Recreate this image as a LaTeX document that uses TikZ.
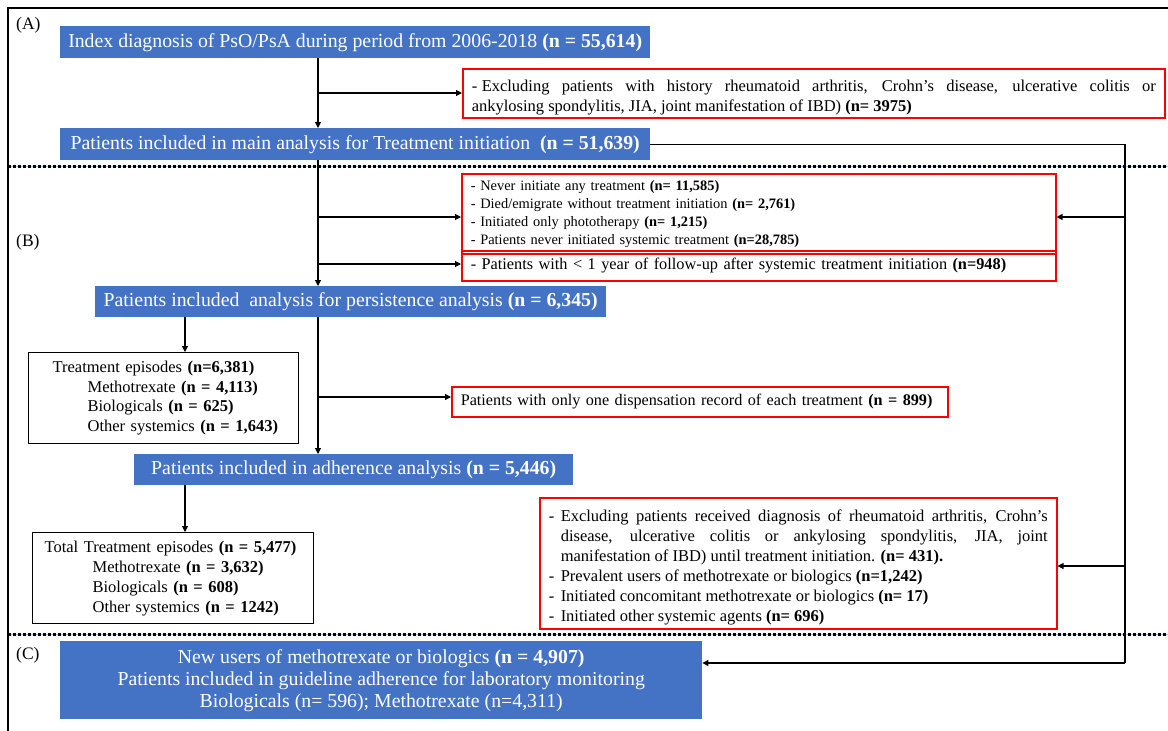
\documentclass[tikz,border=0pt]{standalone}
\usepackage{fontspec}
\setmainfont{Liberation Serif}
\usetikzlibrary{arrows.meta}
\definecolor{bluebox}{HTML}{4472C4}
\definecolor{redline}{HTML}{FF0000}
\definecolor{dotblue}{HTML}{9DC3E6}
\newcommand\dashitem[2]{\par\noindent\hangindent=#1\hangafter=1\makebox[#1][l]{-}#2}
\tikzset{
  bluenode/.style={fill=bluebox, text=white, font=\fontsize{19.8}{22}\selectfont, align=center, inner sep=0pt, anchor=north west},
  redbox/.style={draw=redline, line width=1.5pt, anchor=north west, inner xsep=9pt, inner ysep=0pt},
  blackbox/.style={draw=black, line width=1.2pt, anchor=north west, inner sep=0pt, align=left, font=\fontsize{16.5}{19.5}\selectfont},
  conn/.style={line width=1.1pt},
  arr/.style={line width=1.1pt, -{Triangle[length=6pt,width=6pt]}},
  seclabel/.style={font=\fontsize{17.5}{19}\selectfont, anchor=west, inner sep=0pt},
  sep/.style={line width=3pt, dash pattern=on 3pt off 2pt},
}
\begin{document}
\begin{tikzpicture}[x=1pt,y=-1pt]
\useasboundingbox (0,0) rectangle (1168,731);
\fill[white] (0,0) rectangle (1168,731);
% frame
\draw[line width=1.5pt] (8,731) -- (8,8) -- (1168,8);
% separators
\draw[dotblue, line width=0.8pt] (8,166) -- (1168,166);
\draw[sep] (8,166) -- (1168,166);
\draw[dotblue, line width=0.8pt] (8,634) -- (1168,634);
\draw[sep] (8,634) -- (1168,634);
% section labels
\node[seclabel] (labA) at (16,25) {(A)};
\node[seclabel] (labB) at (16,242) {(B)};
\node[seclabel] (labC) at (16,655) {(C)};

% blue boxes
\node[bluenode, minimum width=590pt, minimum height=32pt] (A1) at (60,26)
  {Index diagnosis of PsO/PsA during period from 2006-2018 \textbf{(n = 55,614)}};
\node[bluenode, minimum width=590pt, minimum height=32pt] (A2) at (60,128)
  {Patients included in main analysis for Treatment initiation\ \ \textbf{(n = 51,639)}};
\node[bluenode, minimum width=511pt, minimum height=31pt] (B1) at (95,286)
  {Patients included\ \ analysis for persistence analysis \textbf{(n = 6,345)}};
\node[bluenode, minimum width=439pt, minimum height=31pt] (B2) at (134,454)
  {Patients included in adherence analysis \textbf{(n = 5,446)}};
\node[bluenode, minimum width=642pt, minimum height=78pt] (C) at (60,641)
  {New users of methotrexate or biologics \textbf{(n = 4,907)}\\
   Patients included in guideline adherence for laboratory monitoring\\
   Biologicals (n= 596); Methotrexate (n=4,311)};

% red boxes
\node[redbox, text width=684pt, minimum height=49pt, align=justify, font=\fontsize{16.5}{20}\selectfont] (r1) at (462,68)
  {\dashitem{10pt}{Excluding patients with history rheumatoid arthritis, Crohn’s disease, ulcerative colitis or\linebreak ankylosing spondylitis, JIA, joint manifestation of IBD) \textbf{(n= 3975)}}};
\node[redbox, text width=576pt, minimum height=80pt, align=left, font=\fontsize{14.4}{18}\selectfont] (r2) at (461,173)
  {- Never initiate any treatment \textbf{(n= 11,585)}\\
   - Died/emigrate without treatment initiation \textbf{(n= 2,761)}\\
   - Initiated only phototherapy \textbf{(n= 1,215)}\\
   - Patients never initiated systemic treatment \textbf{(n=28,785)}};
\node[redbox, text width=576pt, minimum height=30pt, align=left, font=\fontsize{16.3}{18}\selectfont] (r3) at (461,250)
  {- Patients with < 1 year of follow-up after systemic treatment initiation \textbf{(n=948)}};
\node[redbox, text width=478pt, minimum height=30pt, align=left, font=\fontsize{16.2}{18}\selectfont] (r5) at (451,386)
  {Patients with only one dispensation record of each treatment \textbf{(n = 899)}};
\node[redbox, text width=499pt, minimum height=131pt, align=justify, font=\fontsize{16.5}{20}\selectfont] (r4) at (539,497)
  {\dashitem{12pt}{Excluding patients received diagnosis of rheumatoid arthritis, Crohn’s\linebreak disease, ulcerative colitis or ankylosing spondylitis, JIA, joint\linebreak manifestation of IBD) until treatment initiation. \textbf{(n= 431).}}
   \dashitem{12pt}{Prevalent users of methotrexate or biologics \textbf{(n=1,242)}}
   \dashitem{12pt}{Initiated concomitant methotrexate or biologics \textbf{(n= 17)}}
   \dashitem{12pt}{Initiated other systemic agents \textbf{(n= 696)}}};

% black boxes
\node[blackbox, text width=270pt, minimum height=91pt] (k1) at (28,352)
  {\hspace*{24pt}Treatment episodes \textbf{(n=6,381)}\\
   \hspace*{59pt}Methotrexate \textbf{(n = 4,113)}\\
   \hspace*{59pt}Biologicals \textbf{(n = 625)}\\
   \hspace*{59pt}Other systemics \textbf{(n = 1,643)}};
\node[blackbox, text width=281pt, minimum height=91pt, font=\fontsize{16.5}{20}\selectfont] (k2) at (32,532)
  {\hspace*{12pt}Total Treatment episodes \textbf{(n = 5,477)}\\
   \hspace*{60pt}Methotrexate \textbf{(n = 3,632)}\\
   \hspace*{60pt}Biologicals \textbf{(n = 608)}\\
   \hspace*{60pt}Other systemics \textbf{(n = 1242)}};

% connector guide coordinates
\coordinate (xt) at (318,0);
\coordinate (xl) at (185,0);
\coordinate (xr) at (1125,0);
\coordinate (y1) at (0,93);
\coordinate (y2) at (0,217);
\coordinate (y3) at (0,264);
\coordinate (y4) at (0,397);
\coordinate (y5) at (0,566);
\coordinate (y6) at (0,663);

% trunk A
\draw[arr] (xt |- A1.south) -- (xt |- A2.north);
\draw[arr] (xt |- y1) -- (r1.west |- y1);
% trunk B
\draw[arr] (xt |- A2.south) -- (xt |- B1.north);
\draw[arr] (xt |- y2) -- (r2.west |- y2);
\draw[arr] (xt |- y3) -- (r3.west |- y3);
% from B1
\draw[arr] (xl |- B1.south) -- (xl |- k1.north);
\draw[arr] (xt |- B1.south) -- (xt |- B2.north);
\draw[arr] (xt |- y4) -- (r5.west |- y4);
% from B2
\draw[arr] (xl |- B2.south) -- (xl |- k2.north);
% right side connector
\draw[conn] (A2.east) -- (xr |- A2.east) -- (xr |- y6);
\draw[arr] (xr |- y6) -- (C.east |- y6);
\draw[arr] (xr |- y2) -- (r2.east |- y2);
\draw[arr] (xr |- y5) -- (r4.east |- y5);
\end{tikzpicture}
\end{document}
